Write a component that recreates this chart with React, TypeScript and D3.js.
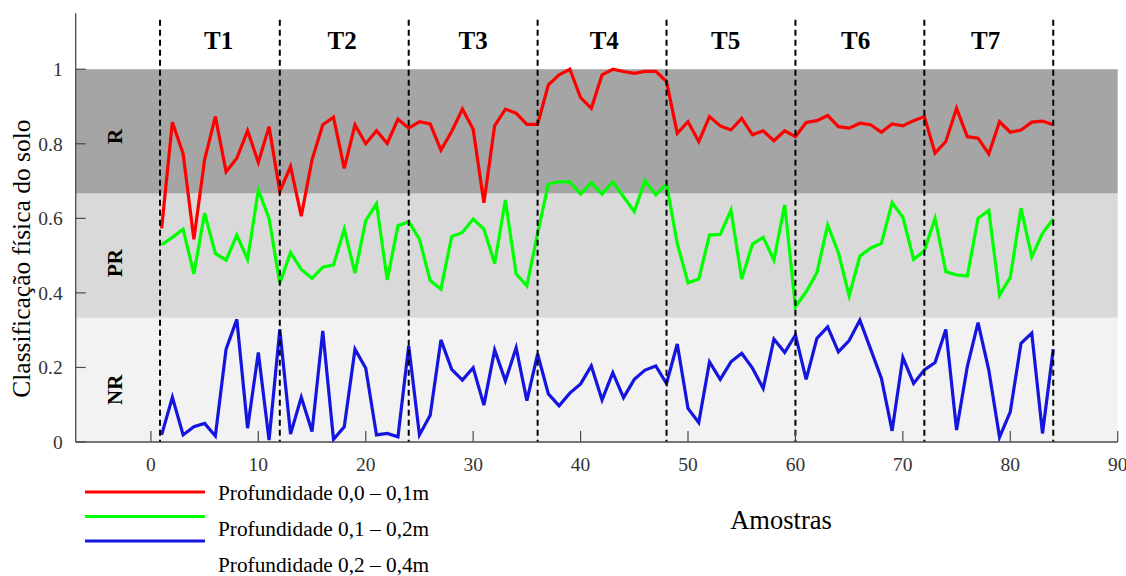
import React from "react";
import * as d3 from "d3";

const samples = d3.range(1, 85);

const depth1 = [
  0.573, 0.858, 0.773, 0.544, 0.757, 0.873, 0.725, 0.761, 0.835, 0.75,
  0.846, 0.672, 0.739, 0.606, 0.757, 0.851, 0.871, 0.734, 0.851, 0.8,
  0.835, 0.801, 0.866, 0.842, 0.859, 0.853, 0.783, 0.833, 0.893, 0.839,
  0.642, 0.848, 0.893, 0.882, 0.852, 0.852, 0.958, 0.985, 1.0, 0.924,
  0.895, 0.985, 1.0, 0.994, 0.989, 0.994, 0.994, 0.967, 0.828, 0.859,
  0.806, 0.873, 0.848, 0.837, 0.868, 0.824, 0.835, 0.808, 0.835, 0.819,
  0.857, 0.862, 0.876, 0.846, 0.842, 0.855, 0.851, 0.831, 0.853, 0.848,
  0.862, 0.873, 0.775, 0.806, 0.895, 0.819, 0.815, 0.773, 0.859, 0.831,
  0.837, 0.858, 0.861, 0.851,
];

const depth2 = [
  0.529, 0.549, 0.571, 0.451, 0.614, 0.506, 0.488, 0.555, 0.49, 0.676,
  0.6, 0.426, 0.508, 0.463, 0.439, 0.469, 0.475, 0.571, 0.453, 0.594,
  0.639, 0.435, 0.58, 0.591, 0.544, 0.433, 0.41, 0.551, 0.562, 0.598,
  0.571, 0.479, 0.649, 0.451, 0.419, 0.56, 0.692, 0.698, 0.698, 0.665,
  0.696, 0.665, 0.698, 0.658, 0.618, 0.701, 0.663, 0.692, 0.533, 0.427,
  0.437, 0.555, 0.557, 0.622, 0.437, 0.531, 0.549, 0.488, 0.636, 0.363,
  0.403, 0.454, 0.582, 0.508, 0.392, 0.499, 0.52, 0.533, 0.642, 0.603,
  0.49, 0.513, 0.6, 0.457, 0.448, 0.445, 0.6, 0.621, 0.394, 0.442,
  0.627, 0.497, 0.56, 0.598,
];

const depth3 = [
  0.019, 0.12, 0.019, 0.041, 0.05, 0.016, 0.249, 0.329, 0.037, 0.24,
  0.005, 0.302, 0.021, 0.12, 0.028, 0.298, 0.007, 0.041, 0.249, 0.198,
  0.019, 0.023, 0.014, 0.258, 0.019, 0.072, 0.274, 0.195, 0.166, 0.199,
  0.099, 0.247, 0.164, 0.253, 0.111, 0.236, 0.129, 0.097, 0.131, 0.156,
  0.204, 0.113, 0.186, 0.119, 0.168, 0.193, 0.204, 0.157, 0.263, 0.09,
  0.052, 0.215, 0.168, 0.215, 0.238, 0.198, 0.144, 0.276, 0.24, 0.287,
  0.168, 0.278, 0.309, 0.242, 0.272, 0.327, 0.249, 0.171, 0.03, 0.227,
  0.157, 0.193, 0.213, 0.302, 0.032, 0.202, 0.32, 0.193, 0.013, 0.081,
  0.265, 0.292, 0.023, 0.249,
];

const seriesNames = [
  "Profundidade 0,0 – 0,1m",
  "Profundidade 0,1 – 0,2m",
  "Profundidade 0,2 – 0,4m",
];
const seriesColors = ["#ff0000", "#00ff00", "#1515e0"];

const classBounds = [0, 1 / 3, 2 / 3, 1];
const classNames = ["NR", "PR", "R"];
const classLabelY = [0.14, 0.48, 0.82];
const classColors = ["#f2f2f2", "#d9d9d9", "#a5a5a5"];

const treatmentBounds = [0.85, 12, 24, 36, 48, 60, 72, 84];
const treatmentNames = ["T1", "T2", "T3", "T4", "T5", "T6", "T7"];
const treatmentLabelX = [6.3, 17.8, 30, 42.2, 53.5, 65.6, 77.7];

const xTicks = [0, 10, 20, 30, 40, 50, 60, 70, 80, 90];
const yTicks = [0, 0.2, 0.4, 0.6, 0.8, 1];

const FONT = "'Liberation Serif', 'Times New Roman', serif";

export default function App() {
  const W = 1126;
  const H = 576;
  const left = 75.7;
  const right = 1117.7;
  const top = 13.3;
  const bottom = 442;

  const x = d3.scaleLinear().domain([-7, 90]).range([left, right]);
  const y = d3.scaleLinear().domain([0, 1.15]).range([bottom, top]);

  const line = d3
    .line<number>()
    .x((_, i) => x(samples[i]))
    .y((d) => y(d));

  const series = [depth1, depth2, depth3];
  const axisColor = "#4a4a4a";

  return (
    <div style={{ position: "absolute", left: 0, top: 0 }}>
      <svg width={W} height={H} style={{ display: "block", background: "#fff" }}>
        {/* bands */}
        {classNames.map((n, i) => (
          <rect
            key={n}
            x={left}
            y={y(classBounds[i + 1])}
            width={right - left}
            height={y(classBounds[i]) - y(classBounds[i + 1])}
            fill={classColors[i]}
          />
        ))}
        {/* band labels */}
        {classNames.map((n, i) => (
          <text
            key={"l" + n}
            transform={`translate(${122},${y(classLabelY[i])}) rotate(-90)`}
            textAnchor="middle"
            fontFamily={FONT}
            fontWeight="bold"
            fontSize={21}
            fill="#000"
          >
            {n}
          </text>
        ))}
        {/* series */}
        {series.map((s, i) => (
          <path
            key={"s" + i}
            d={line(s) || ""}
            fill="none"
            stroke={seriesColors[i]}
            strokeWidth={3.2}
            strokeLinejoin="miter"
          />
        ))}
        {/* dashed treatment lines */}
        {treatmentBounds.map((b) => (
          <line
            key={"d" + b}
            x1={x(b)}
            x2={x(b)}
            y1={y(1.133)}
            y2={bottom}
            stroke="#000"
            strokeWidth={2}
            strokeDasharray="6,4"
          />
        ))}
        {treatmentNames.map((t, i) => (
          <text
            key={t}
            x={x(treatmentLabelX[i])}
            y={y(1.054)}
            textAnchor="middle"
            fontFamily={FONT}
            fontWeight="bold"
            fontSize={25}
            fill="#000"
          >
            {t}
          </text>
        ))}
        {/* axes */}
        <line x1={left} x2={left} y1={top} y2={bottom} stroke={axisColor} strokeWidth={1.3} />
        <line x1={left} x2={right} y1={bottom} y2={bottom} stroke={axisColor} strokeWidth={1.3} />
        {yTicks.map((t) => (
          <g key={"yt" + t}>
            <line x1={left} x2={left + 10} y1={y(t)} y2={y(t)} stroke={axisColor} strokeWidth={1.2} />
            <text
              x={left - 13}
              y={y(t)}
              dy="0.35em"
              textAnchor="end"
              fontFamily={FONT}
              fontSize={19.5}
              fill="#333"
            >
              {d3.format("~g")(t)}
            </text>
          </g>
        ))}
        {xTicks.map((t) => (
          <g key={"xt" + t}>
            <line x1={x(t)} x2={x(t)} y1={bottom} y2={bottom - 11} stroke={axisColor} strokeWidth={1.2} />
            <text
              x={x(t)}
              y={bottom + 29}
              textAnchor="middle"
              fontFamily={FONT}
              fontSize={19.5}
              fill="#333"
            >
              {t}
            </text>
          </g>
        ))}
        {/* axis titles */}
        <text
          transform={`translate(${30},${y(0.492)}) rotate(-90)`}
          textAnchor="middle"
          fontFamily={FONT}
          fontSize={25.5}
          fill="#000"
        >
          Classificação física do solo
        </text>
        <text x={781} y={529} textAnchor="middle" fontFamily={FONT} fontSize={26.5} fill="#000">
          Amostras
        </text>
        {/* legend */}
        {seriesNames.map((n, i) => (
          <g key={"lg" + i}>
            <line
              x1={85}
              x2={205}
              y1={492 + i * 24.5}
              y2={492 + i * 24.5}
              stroke={seriesColors[i]}
              strokeWidth={3.2}
            />
            <text x={218} y={500 + i * 36} fontFamily={FONT} fontSize={21.3} fill="#000">
              {n}
            </text>
          </g>
        ))}
      </svg>
    </div>
  );
}
